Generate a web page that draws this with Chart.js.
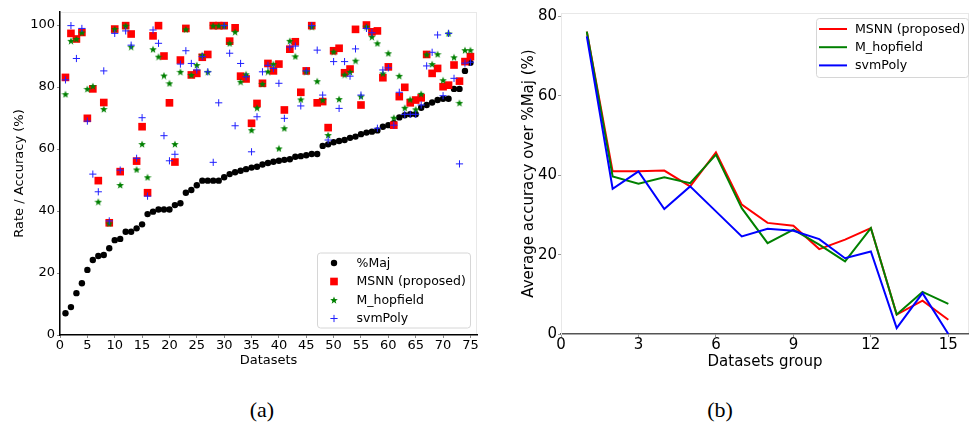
<!DOCTYPE html>
<html>
<head>
<meta charset="utf-8">
<script src="https://cdn.jsdelivr.net/npm/chart.js@4.4.0/dist/chart.umd.min.js"></script>
<style>
  html, body { margin: 0; padding: 0; background: #fff; }
  body { width: 969px; height: 436px; position: relative; overflow: hidden; }
  #chartA { position: absolute; left: 0; top: 0; }
  #chartB { position: absolute; left: 485px; top: 0; }
  .cap { position: absolute; top: 397px; width: 60px; text-align: center;
         font-family: "Liberation Serif", serif; font-size: 22px; line-height: 26px; color: #000; }
</style>
</head>
<body>
<canvas id="chartA" width="485" height="380"></canvas>
<canvas id="chartB" width="484" height="380"></canvas>
<div class="cap" style="left:232px">(a)</div>
<div class="cap" style="left:690px">(b)</div>

<script>
// ---- (a) per-dataset results ----
var datasetIds = [1, 2, 3, 4, 5, 6, 7, 8, 9, 10, 11, 12, 13, 14, 15, 16, 17, 18, 19, 20,
  21, 22, 23, 24, 25, 26, 27, 28, 29, 30, 31, 32, 33, 34, 35, 36, 37, 38, 39, 40,
  41, 42, 43, 44, 45, 46, 47, 48, 49, 50, 51, 52, 53, 54, 55, 56, 57, 58, 59, 60,
  61, 62, 63, 64, 65, 66, 67, 68, 69, 70, 71, 72, 73, 74, 75];

var pctMaj = [7, 9, 13.5, 16.7, 21, 24.2, 25.5, 25.8, 28, 30.6,
  31, 33.3, 33.3, 34.4, 35.7, 39, 39.8, 40.5, 40.5, 40.5,
  41.9, 42.5, 45.9, 46.8, 48.3, 49.8, 49.8, 49.8, 49.8, 50.9,
  51.9, 52.5, 53, 53.5, 54, 54.3, 55, 55.5, 55.9, 56.2,
  56.5, 56.7, 57.5, 57.7, 58, 58.4, 58.4, 61, 61.5, 62.2,
  62.6, 62.9, 63.6, 64, 64.8, 65.3, 65.6, 66, 67.2, 67.7,
  68.3, 70.2, 70.9, 71.2, 71.2, 73.3, 74.2, 75, 75.8, 76.2,
  76.2, 79.4, 79.4, 85.2, 87.8];

var msnnAcc = [83.1, 97.3, 95.5, 97.6, 69.9, 79.4, 49.8, 75, 36.2, 98.7,
  52.7, 99.8, 97.1, 56.1, 67.2, 45.9, 96.5, 99.8, 90, 74.9,
  55.8, 88.7, 98.9, 83.9, 84.4, 89.6, 90.5, 99.8, 99.8, 99.8,
  94.8, 99.1, 83.5, 82.6, 68.3, 74.7, 81.2, 87.6, 85.2, 87.4,
  72.6, 92.2, 94.6, 78.3, 85.2, 99.8, 74.9, 75.3, 66.9, 91.7,
  92.5, 84.6, 85.8, 98.6, 74.2, 100, 97.8, 98.1, 83, 86.5,
  67.7, 76.9, 79.9, 74.9, 75.8, 76.5, 90.5, 84.4, 86, 80.1,
  80.6, 87.1, 81.9, 88.2, 89.8];

var hopfieldAcc = [77.7, 94.9, 95.5, 97.6, 79.4, 80.3, 43, 72.9, 36, 98.7,
  48.4, 99.8, 93, 53.4, 61.6, 50.9, 92.2, 89.8, 83.7, 81.2,
  61.6, 84.9, 98.6, 83.9, 87.1, 90.3, 84.9, 99.8, 99.8, 99.8,
  94.1, 97.8, 81.7, 84.1, 66.1, 73.3, 81, 85, 87.4, 60.2,
  66.7, 94.9, 89.9, 76, 85, 99.5, 81.9, 75.8, 64.5, 91.4,
  76.1, 84, 84.9, 88.5, 77, 99.5, 96.2, 94.1, 84.4, 90.9,
  70.1, 83.6, 73.3, 76, 72.8, 77.8, 90.5, 87.4, 90.6, 82.2,
  97.3, 89.6, 74.9, 91.9, 91.9];

var svmPolyAcc = [82.3, 99.8, 89.2, 98.9, 69, 51.9, 46.2, 85.2, 36.8, 97.3,
  53.2, 98.1, 93.5, 57, 70.1, 44.8, 98.4, 94.1, 64.3, 56.2,
  58.3, 87.4, 91.7, 87.6, 85.5, 89.8, 84.9, 55.7, 74.9, 99.8,
  90.9, 67.5, 87.6, 83.3, 59.1, 70.4, 84.9, 87, 86, 81.2,
  69.9, 92.9, 93.2, 73.9, 85.2, 99.8, 91.9, 77.4, 62.9, 88.2,
  73.1, 88.2, 83.5, 92.3, 77.4, 98.9, 97.5, 66.7, 85.5, 86.2,
  67.7, 78.3, 71.2, 71.2, 71.2, 74.2, 86.8, 91.2, 96.8, 77.2,
  97.3, 82.8, 55.2, 87.7, 88];

var xTicksA = [0, 5, 10, 15, 20, 25, 30, 35, 40, 45, 50, 55, 60, 65, 70, 75];
var yTicksA = [0, 20, 40, 60, 80, 100];

// ---- (b) averages per group ----
var groups = [1, 2, 3, 4, 5, 6, 7, 8, 9, 10, 11, 12, 13, 14, 15];
var msnnGroup = [76.2, 41, 41, 41.2, 37.2, 45.8, 32.6, 28, 27.3, 21.4, 23.8, 26.7, 4.9, 8.4, 3.6];
var hopfieldGroup = [76.2, 39.7, 37.9, 39.5, 38, 45.2, 31.7, 22.9, 26.3, 22.5, 18.3, 26.7, 4.9, 10.6, 7.6];
var svmPolyGroup = [75, 36.6, 41, 31.5, 37.2, 30.9, 24.6, 26.5, 26, 23.9, 19.1, 20.8, 1.5, 10.3, 0];

var xTicksB = [0, 3, 6, 9, 12, 15];
var yTicksB = [0, 20, 40, 60, 80];

var FONT = 'DejaVu Sans';
Chart.defaults.font.family = FONT;
Chart.defaults.color = '#000';

function pairs(xs, ys) {
  return xs.map(function (x, i) { return { x: x, y: ys[i] }; });
}

// matplotlib-like filled star marker
function makeStar(size, color) {
  var c = document.createElement('canvas');
  c.width = size; c.height = size;
  var g = c.getContext('2d');
  var r = size / 2, ri = r * 0.42;
  g.beginPath();
  for (var k = 0; k < 10; k++) {
    var rad = k % 2 ? ri : r;
    var a = -Math.PI / 2 + k * Math.PI / 5;
    g.lineTo(r + rad * Math.cos(a), r + rad * Math.sin(a) + 0.4);
  }
  g.closePath();
  g.fillStyle = color;
  g.fill();
  return c;
}
var starImg = makeStar(8, '#008000');

// light frame around the plot area (top/right spines)
var frame = {
  id: 'frame',
  beforeDraw: function (chart, args, opts) {
    var a = chart.chartArea, ctx = chart.ctx;
    ctx.save();
    ctx.strokeStyle = opts.color || '#e6e6e6';
    ctx.lineWidth = 1;
    ctx.strokeRect(a.left + 0.5, a.top + 0.5, a.right - a.left - 1, a.bottom - a.top - 1);
    ctx.restore();
  }
};

function drawMarker(ctx, ds, x, y) {
  var r = ds.pointRadius;
  ctx.save();
  if (ds.pointStyle instanceof HTMLCanvasElement) {
    ctx.drawImage(ds.pointStyle, x - ds.pointStyle.width / 2, y - ds.pointStyle.height / 2);
  } else if (ds.pointStyle === 'rect') {
    var s = r * Math.SQRT1_2;
    ctx.fillStyle = ds.backgroundColor;
    ctx.fillRect(x - s, y - s, 2 * s, 2 * s);
  } else if (ds.pointStyle === 'cross') {
    ctx.strokeStyle = ds.borderColor;
    ctx.lineWidth = ds.borderWidth;
    ctx.beginPath();
    ctx.moveTo(x - r, y); ctx.lineTo(x + r, y);
    ctx.moveTo(x, y - r); ctx.lineTo(x, y + r);
    ctx.stroke();
  } else {
    ctx.fillStyle = ds.backgroundColor;
    ctx.beginPath();
    ctx.arc(x, y, r, 0, Math.PI * 2);
    ctx.fill();
  }
  ctx.restore();
}

// legend box inside the plot, like matplotlib's
var cornerLegend = {
  id: 'cornerLegend',
  afterDraw: function (chart, args, o) {
    var ctx = chart.ctx, a = chart.chartArea;
    var x0 = a.right - o.right - o.width;
    var y0 = o.top != null ? a.top + o.top : a.bottom - o.bottom - o.height;
    ctx.save();
    ctx.beginPath();
    ctx.roundRect(x0 + 0.5, y0 + 0.5, o.width, o.height, 3);
    ctx.fillStyle = 'rgba(255,255,255,0.8)';
    ctx.fill();
    ctx.strokeStyle = '#d6d6d6';
    ctx.lineWidth = 1;
    ctx.stroke();
    ctx.font = o.fontSize + 'px "' + FONT + '"';
    ctx.textBaseline = 'middle';
    chart.data.datasets.forEach(function (ds, k) {
      var y = y0 + o.firstRow + k * o.rowGap;
      if (o.lines) {
        ctx.strokeStyle = ds.borderColor;
        ctx.lineWidth = ds.borderWidth;
        ctx.beginPath();
        ctx.moveTo(x0 + o.lineFrom, y);
        ctx.lineTo(x0 + o.lineTo, y);
        ctx.stroke();
      } else {
        drawMarker(ctx, ds, x0 + o.markerX, y);
      }
      ctx.fillStyle = '#000';
      ctx.fillText(ds.label, x0 + o.textX, y + 0.5);
    });
    ctx.restore();
  }
};

function fixTicks(list) {
  return function (s) { s.ticks = list.map(function (v) { return { value: v }; }); };
}

// ---------------- chart (a) ----------------
new Chart(document.getElementById('chartA'), {
  type: 'scatter',
  data: {
    datasets: [
      { label: '%Maj', data: pairs(datasetIds, pctMaj), pointStyle: 'circle', pointRadius: 3.2,
        backgroundColor: '#000', borderColor: '#000', borderWidth: 0, order: 3 },
      { label: 'MSNN (proposed)', data: pairs(datasetIds, msnnAcc), pointStyle: 'rect', pointRadius: 5.4,
        backgroundColor: '#ff0000', borderColor: '#ff0000', borderWidth: 0, order: 2 },
      { label: 'M_hopfield', data: pairs(datasetIds, hopfieldAcc), pointStyle: starImg, pointRadius: 4,
        backgroundColor: '#008000', borderColor: '#008000', borderWidth: 0, order: 1 },
      { label: 'svmPoly', data: pairs(datasetIds, svmPolyAcc), pointStyle: 'cross', pointRadius: 3.6,
        backgroundColor: '#0000ff', borderColor: '#2020ff', borderWidth: 1, order: 0 }
    ]
  },
  options: {
    responsive: false,
    animation: false,
    events: [],
    layout: { padding: { left: 0, right: 8, top: 12, bottom: 5 } },
    plugins: {
      legend: { display: false },
      tooltip: { enabled: false },
      frame: { color: '#e8e8e8' },
      cornerLegend: { right: 7, bottom: 7.5, width: 153, height: 75, firstRow: 10.5, rowGap: 18.5,
        markerX: 17, textX: 39.5, fontSize: 12.5 }
    },
    scales: {
      x: {
        type: 'linear', min: 0, max: 76.2,
        afterBuildTicks: fixTicks(xTicksA),
        afterFit: function (s) { s.height = 40; s.paddingLeft = 0; s.paddingRight = 0; },
        grid: { drawOnChartArea: false, tickLength: 3, tickColor: '#888' },
        border: { color: '#000', width: 1.5 },
        ticks: { color: '#000', font: { size: 13 }, padding: 0, maxRotation: 0, autoSkip: false },
        title: { display: true, text: 'Datasets', color: '#000', font: { size: 13 }, padding: { top: 0, bottom: 7 } }
      },
      y: {
        type: 'linear', min: 0, max: 104.2,
        afterBuildTicks: fixTicks(yTicksA),
        afterFit: function (s) { s.width = 60; s.paddingTop = 0; s.paddingBottom = 0; },
        grid: { drawOnChartArea: false, tickLength: 3, tickColor: '#888' },
        border: { color: '#000', width: 1.5 },
        ticks: { color: '#000', font: { size: 13 }, padding: 2, autoSkip: false },
        title: { display: true, text: 'Rate / Accuracy (%)', color: '#000', font: { size: 13 }, padding: { top: 12, bottom: 0 } }
      }
    }
  },
  plugins: [frame, cornerLegend]
});

// ---------------- chart (b) ----------------
new Chart(document.getElementById('chartB'), {
  type: 'line',
  data: {
    datasets: [
      { label: 'MSNN (proposed)', data: pairs(groups, msnnGroup), borderColor: '#ff0000', borderWidth: 2, order: 2 },
      { label: 'M_hopfield', data: pairs(groups, hopfieldGroup), borderColor: '#008000', borderWidth: 2, order: 1 },
      { label: 'svmPoly', data: pairs(groups, svmPolyGroup), borderColor: '#0000ff', borderWidth: 2, order: 0 }
    ]
  },
  options: {
    responsive: false,
    animation: false,
    events: [],
    elements: { point: { radius: 0 }, line: { tension: 0, fill: false } },
    layout: { padding: { left: 0, right: 0, top: 13, bottom: 0 } },
    plugins: {
      legend: { display: false },
      tooltip: { enabled: false },
      frame: { color: '#e8e8e8' },
      cornerLegend: { right: 1, top: 5, width: 152, height: 59, firstRow: 11, rowGap: 18.2,
        lines: true, lineFrom: 3, lineTo: 31, textX: 39, fontSize: 12.6 }
    },
    scales: {
      x: {
        type: 'linear', min: 0, max: 15.8,
        afterBuildTicks: fixTicks(xTicksB),
        afterFit: function (s) { s.height = 46; s.paddingLeft = 0; s.paddingRight = 0; },
        grid: { drawOnChartArea: false, tickLength: 3, tickColor: '#999' },
        border: { color: '#555', width: 1.5 },
        ticks: { color: '#000', font: { size: 15 }, padding: -1, maxRotation: 0, autoSkip: false },
        title: { display: true, text: 'Datasets group', color: '#000', font: { size: 15 }, padding: { top: 0, bottom: 9 } }
      },
      y: {
        type: 'linear', min: 0, max: 80.9,
        afterBuildTicks: fixTicks(yTicksB),
        afterFit: function (s) { s.width = 76; s.paddingTop = 0; s.paddingBottom = 0; },
        grid: { drawOnChartArea: false, tickLength: 3, tickColor: '#999' },
        border: { color: '#e8e8e8', width: 1 },
        ticks: { color: '#000', font: { size: 15 }, padding: 1, autoSkip: false },
        title: { display: true, text: 'Average accuracy over %Maj (%)', color: '#000', font: { size: 15 }, padding: { top: 35, bottom: 0 } }
      }
    }
  },
  plugins: [frame, cornerLegend]
});
</script>
</body>
</html>
